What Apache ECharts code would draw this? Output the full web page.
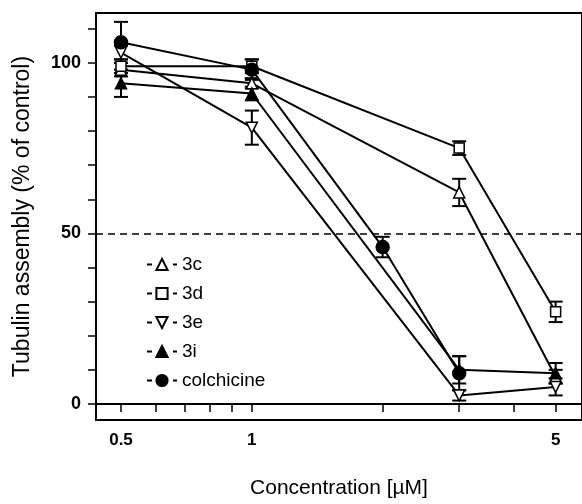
<!DOCTYPE html>
<html lang="en">
<head>
    <meta charset="UTF-8">
    <title>Tubulin assembly</title>
    <script src="https://cdn.jsdelivr.net/npm/echarts/dist/echarts.min.js"></script>
    <style>
        html, body { margin: 0; padding: 0; background: #fff; }
        #chart { width: 582px; height: 504px; }
    </style>
</head>
<body>
    <div id="chart"></div>

    <script>
        // concentrations (uM)
        const conc = [0.5, 1, 3, 5];
        const concColchicine = [0.5, 1, 2, 3];

        // tubulin assembly, % of control, and error bar half-heights
        const val3c = [98, 94, 62, 8];
        const err3c = [2, 1.5, 4, 2];
        const val3d = [99, 99, 75, 27];
        const err3d = [2, 2, 2, 3];
        const val3e = [103, 81, 2.5, 5];
        const err3e = [2, 5, 1.5, 2.5];
        const val3i = [94, 91, 10, 9];
        const err3i = [4, 2, 4, 3];
        const valColchicine = [106, 98, 46, 9];
        const errColchicine = [6, 3, 3, 5];

        const xTicks = [0.5, 0.6, 0.7, 0.8, 0.9, 1, 2, 3, 4, 5];
        const xLabels = [0.5, 1, 5];
        const yTicks = [0, 10, 20, 30, 40, 50, 60, 70, 80, 90, 100, 110];
        const yLabels = [0, 50, 100];

        const font = 'Liberation Sans, Arial, sans-serif';
        const downTri = 'path://M0,0 L10,0 L5,9 Z';

        function pairs(xs, ys) {
            return xs.map((x, i) => [x, ys[i]]);
        }
        function triples(xs, ys, es) {
            return xs.map((x, i) => [x, ys[i], es[i]]);
        }

        function errorBar(params, api) {
            const x = api.value(0), y = api.value(1), e = api.value(2);
            const top = api.coord([x, y + e]);
            const bot = api.coord([x, y - e]);
            const w = 7;
            const style = { stroke: '#000', lineWidth: 2 };
            return {
                type: 'group',
                children: [
                    { type: 'line', shape: { x1: top[0], y1: top[1], x2: bot[0], y2: bot[1] }, style: style },
                    { type: 'line', shape: { x1: top[0] - w, y1: top[1], x2: top[0] + w, y2: top[1] }, style: style },
                    { type: 'line', shape: { x1: bot[0] - w, y1: bot[1], x2: bot[0] + w, y2: bot[1] }, style: style }
                ]
            };
        }

        function lineSeries(name, xs, ys, symbol, size, fill) {
            return {
                name: name,
                type: 'line',
                data: pairs(xs, ys),
                symbol: symbol,
                symbolSize: size,
                z: 3,
                lineStyle: { color: '#000', width: 2 },
                itemStyle: { color: fill, borderColor: '#000', borderWidth: 1.5 }
            };
        }

        function errSeries(name, xs, ys, es) {
            return {
                name: name + ' err',
                type: 'custom',
                renderItem: errorBar,
                data: triples(xs, ys, es),
                encode: { x: 0, y: 1 },
                z: 2
            };
        }

        const chart = echarts.init(document.getElementById('chart'));

        const s3c = lineSeries('3c', conc, val3c, 'triangle', 11, '#fff');
        s3c.markLine = {
            symbol: 'none',
            silent: true,
            label: { show: false },
            lineStyle: { color: '#000', width: 1.5, type: [7, 5] },
            data: [{ yAxis: 50 }]
        };

        chart.setOption({
            animation: false,
            textStyle: { fontFamily: font },
            grid: {
                left: 96, right: -4, top: 13, bottom: 82,
                show: true, borderColor: '#000', borderWidth: 2
            },
            legend: {
                data: ['3c', '3d', '3e', '3i', 'colchicine'],
                orient: 'vertical',
                left: 141,
                top: 250,
                itemGap: 10,
                itemWidth: 30,
                itemHeight: 14,
                lineStyle: { type: [5, 8], dashOffset: 0 },
                textStyle: { fontFamily: font, fontSize: 19, color: '#000' }
            },
            xAxis: {
                type: 'log',
                min: 0.438,
                max: 5.75,
                name: 'Concentration [µM]',
                nameLocation: 'middle',
                nameGap: 58,
                nameTextStyle: { fontFamily: font, fontSize: 21, color: '#000' },
                axisLine: { lineStyle: { color: '#000', width: 2 } },
                axisTick: { length: 8, customValues: xTicks, lineStyle: { color: '#000', width: 1.5 } },
                axisLabel: {
                    customValues: xLabels,
                    margin: 12,
                    fontFamily: font, fontSize: 17, fontWeight: 'bold', color: '#000'
                },
                minorTick: { show: false },
                splitLine: { show: false }
            },
            yAxis: {
                type: 'value',
                min: -4.7,
                max: 114.6,
                name: 'Tubulin assembly (% of control)',
                nameLocation: 'middle',
                nameGap: 62,
                nameTextStyle: { fontFamily: font, fontSize: 23, color: '#000' },
                axisLine: { show: true, lineStyle: { color: '#000', width: 2 } },
                axisTick: { show: true, length: 8, customValues: yTicks, lineStyle: { color: '#000', width: 1.5 } },
                axisLabel: {
                    customValues: yLabels,
                    margin: 15,
                    fontFamily: font, fontSize: 18, fontWeight: 'bold', color: '#000'
                },
                splitLine: { show: false }
            },
            series: [
                errSeries('3c', conc, val3c, err3c),
                errSeries('3d', conc, val3d, err3d),
                errSeries('3e', conc, val3e, err3e),
                errSeries('3i', conc, val3i, err3i),
                errSeries('colchicine', concColchicine, valColchicine, errColchicine),
                s3c,
                lineSeries('3d', conc, val3d, 'rect', 10, '#fff'),
                lineSeries('3e', conc, val3e, downTri, 11, '#fff'),
                lineSeries('3i', conc, val3i, 'triangle', 11, '#000'),
                lineSeries('colchicine', concColchicine, valColchicine, 'circle', 13, '#000')
            ]
        });
    </script>
</body>
</html>
